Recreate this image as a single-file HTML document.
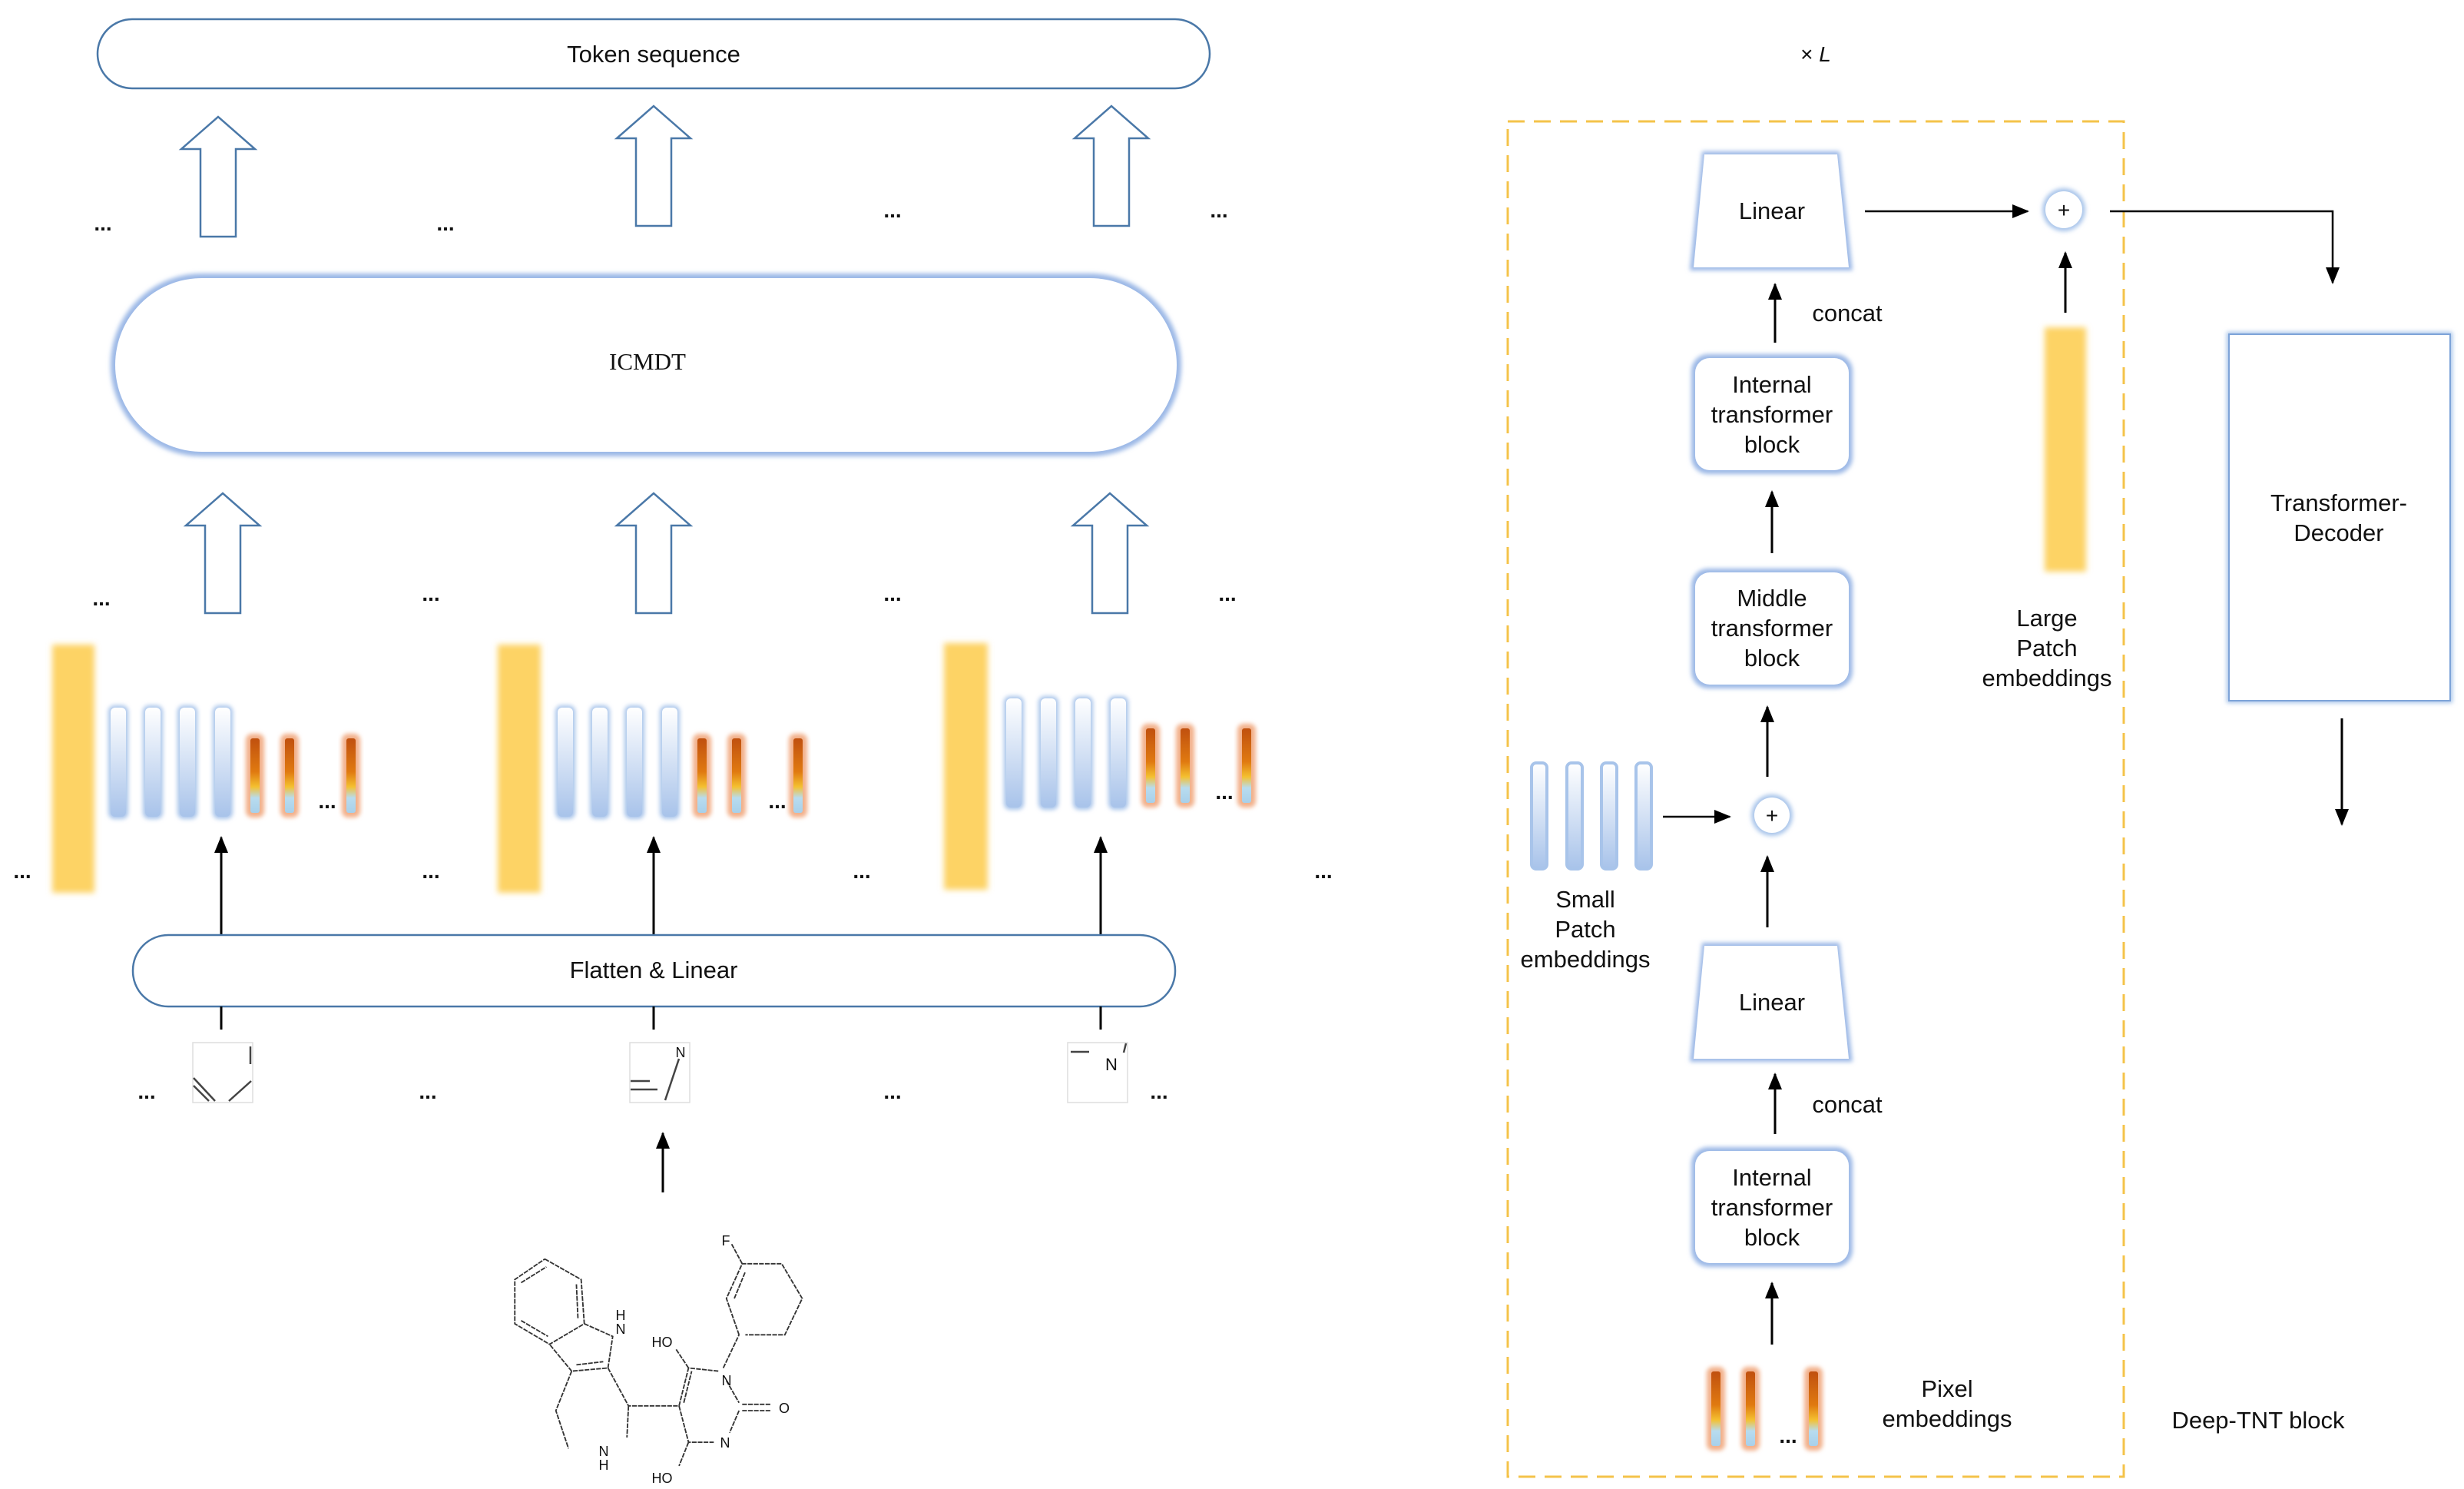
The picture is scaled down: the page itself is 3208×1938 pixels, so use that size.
<!DOCTYPE html>
<html><head><meta charset="utf-8"><style>
html,body{margin:0;padding:0;background:#fff}
svg{display:block}
text{font-family:"Liberation Sans",Arial,sans-serif;fill:#111}
</style></head><body>
<svg width="3208" height="1938" viewBox="0 0 3208 1938" xmlns="http://www.w3.org/2000/svg">
<defs>
<filter id="blur" x="-50%" y="-20%" width="200%" height="140%"><feGaussianBlur stdDeviation="4"/></filter>
<filter id="glow" x="-20%" y="-20%" width="140%" height="140%"><feGaussianBlur stdDeviation="3"/></filter>
<linearGradient id="bl" x1="0" y1="0" x2="0" y2="1"><stop offset="0" stop-color="#ffffff"/><stop offset="1" stop-color="#a8c3ea"/></linearGradient>
<linearGradient id="or" x1="0" y1="0" x2="0" y2="1"><stop offset="0" stop-color="#c0500f"/><stop offset="0.45" stop-color="#e07a10"/><stop offset="0.65" stop-color="#f4c030"/><stop offset="0.8" stop-color="#b8dcef"/><stop offset="1" stop-color="#a8d0ea"/></linearGradient>
<marker id="ahb" markerWidth="22" markerHeight="22" refX="20" refY="11" orient="auto" markerUnits="userSpaceOnUse"><path d="M0,2 L22,11 L0,20 z" fill="#000"/></marker>
<g id="hollow"><path d="M-23,0 L-23,-114 L-48,-114 L0,-156 L48,-114 L23,-114 L23,0 Z" fill="#fff" stroke="#4a78a8" stroke-width="2.5"/></g>
<g id="bbar"><rect x="-3" y="-3" width="26" height="148" rx="8" fill="#a8c4ea" filter="url(#glow)"/><rect x="0" y="0" width="20" height="142" rx="6" fill="url(#bl)"/></g>
<g id="obar"><rect x="-3" y="-3" width="24" height="109" rx="8" fill="#f2b08a" filter="url(#glow)"/><rect x="3" y="3" width="12" height="97" rx="3" fill="url(#or)"/></g>
</defs>

<rect x="127" y="25" width="1448" height="90" rx="45" fill="#fff" stroke="#4a78a8" stroke-width="2.5"/>
<text x="851" y="81" font-size="31" text-anchor="middle">Token sequence</text>

<use href="#hollow" x="284" y="308"/>
<use href="#hollow" x="851" y="294"/>
<use href="#hollow" x="1447" y="294"/>
<g font-size="28" font-weight="bold" text-anchor="middle">
<text x="134" y="300">...</text><text x="580" y="300">...</text><text x="1162" y="283">...</text><text x="1587" y="283">...</text>
</g>

<rect x="144" y="356" width="1394" height="238" rx="119" fill="#9bb8e6" filter="url(#glow)"/>
<rect x="150" y="362" width="1382" height="226" rx="113" fill="#fff"/>
<text x="843" y="481" font-size="31" text-anchor="middle" style="font-family:'Liberation Serif',serif">ICMDT</text>

<use href="#hollow" x="290" y="798"/>
<use href="#hollow" x="851" y="798"/>
<use href="#hollow" x="1445" y="798"/>
<g font-size="28" font-weight="bold" text-anchor="middle">
<text x="132" y="788">...</text><text x="561" y="782">...</text><text x="1162" y="782">...</text><text x="1598" y="782">...</text>
</g>

<rect x="68" y="839" width="55" height="323" fill="#fdd365" filter="url(#blur)"/>
<use href="#bbar" x="144" y="921"/><use href="#bbar" x="189" y="921"/><use href="#bbar" x="234" y="921"/><use href="#bbar" x="280" y="921"/>
<use href="#obar" x="323" y="958"/><use href="#obar" x="368" y="958"/><use href="#obar" x="448" y="958"/>
<rect x="648" y="839" width="56" height="323" fill="#fdd365" filter="url(#blur)"/>
<use href="#bbar" x="726" y="921"/><use href="#bbar" x="771" y="921"/><use href="#bbar" x="816" y="921"/><use href="#bbar" x="862" y="921"/>
<use href="#obar" x="905" y="958"/><use href="#obar" x="950" y="958"/><use href="#obar" x="1030" y="958"/>
<rect x="1229" y="837" width="57" height="321" fill="#fdd365" filter="url(#blur)"/>
<use href="#bbar" x="1310" y="909"/><use href="#bbar" x="1355" y="909"/><use href="#bbar" x="1400" y="909"/><use href="#bbar" x="1446" y="909"/>
<use href="#obar" x="1489" y="945"/><use href="#obar" x="1534" y="945"/><use href="#obar" x="1614" y="945"/>
<g font-size="28" font-weight="bold" text-anchor="middle">
<text x="426" y="1052">...</text><text x="1012" y="1052">...</text><text x="1594" y="1040">...</text>
<text x="29" y="1143">...</text><text x="561" y="1143">...</text><text x="1122" y="1143">...</text><text x="1723" y="1143">...</text>
</g>

<g stroke="#000" stroke-width="3" marker-end="url(#ahb)">
<line x1="288" y1="1217" x2="288" y2="1090"/>
<line x1="851" y1="1217" x2="851" y2="1090"/>
<line x1="1433" y1="1217" x2="1433" y2="1090"/>
</g>

<rect x="173" y="1217" width="1357" height="93" rx="46" fill="#fff" stroke="#4a78a8" stroke-width="2.5"/>
<text x="851" y="1273" font-size="31" text-anchor="middle">Flatten &amp; Linear</text>
<g stroke="#000" stroke-width="3">
<line x1="288" y1="1310" x2="288" y2="1340"/><line x1="851" y1="1310" x2="851" y2="1340"/><line x1="1433" y1="1310" x2="1433" y2="1340"/>
</g>
<g stroke="#ddd" stroke-width="1.5" fill="#fff">
<rect x="251" y="1357" width="78" height="78"/><rect x="820" y="1357" width="78" height="78"/><rect x="1390" y="1357" width="78" height="78"/>
</g>
<g stroke="#444" stroke-width="2.5" fill="none">
<line x1="326" y1="1362" x2="326" y2="1385"/>
<line x1="252" y1="1403" x2="280" y2="1433"/><line x1="252" y1="1413" x2="272" y2="1433"/><line x1="298" y1="1433" x2="327" y2="1407"/>
<line x1="884" y1="1378" x2="866" y2="1432"/><line x1="821" y1="1407" x2="846" y2="1407"/><line x1="821" y1="1418" x2="856" y2="1418"/>
<line x1="1394" y1="1369" x2="1418" y2="1369"/><line x1="1466" y1="1358" x2="1463" y2="1370"/>
</g>
<text x="886" y="1376" font-size="18" text-anchor="middle">N</text>
<text x="1447" y="1393" font-size="22" text-anchor="middle">N</text>
<g font-size="28" font-weight="bold" text-anchor="middle">
<text x="191" y="1430">...</text><text x="557" y="1430">...</text><text x="1162" y="1430">...</text><text x="1509" y="1430">...</text>
</g>
<line x1="863" y1="1552" x2="863" y2="1475" stroke="#000" stroke-width="3" marker-end="url(#ahb)"/>

<g transform="scale(2.056)" stroke="#333" stroke-width="0.9" fill="none" stroke-dasharray="3 0.7">
<polyline points="345,797 368,810 370,838 348,851 326,838 326,810 345,797"/>
<line x1="330" y1="812" x2="346" y2="802"/><line x1="330" y1="836" x2="347" y2="846"/><line x1="365" y1="813" x2="366" y2="835"/>
<polyline points="370,838 388,846 385,866 362,868 348,851"/>
<line x1="365" y1="864" x2="382" y2="862"/>
<polyline points="362,868 352,893 360,917"/>
<polyline points="385,866 398,890 430,890"/>
<line x1="398" y1="890" x2="397" y2="910"/>
<polyline points="430,890 436,866 455,868"/>
<line x1="433" y1="888" x2="438" y2="868"/>
<polyline points="430,890 436,913 452,913"/>
<line x1="460" y1="874" x2="468" y2="888"/>
<line x1="468" y1="893" x2="462" y2="907"/>
<line x1="470" y1="889" x2="488" y2="889"/><line x1="470" y1="893" x2="488" y2="893"/>
<line x1="436" y1="866" x2="428" y2="854"/>
<line x1="436" y1="913" x2="430" y2="928"/>
<line x1="458" y1="866" x2="468" y2="845"/>
<polyline points="468,845 460,822 470,800 495,800 508,822 497,845 472,845"/>
<line x1="465" y1="822" x2="472" y2="805"/>
<line x1="470" y1="800" x2="463" y2="787"/>
</g>
<g font-size="18" text-anchor="middle">
<text x="808" y="1718">H</text><text x="808" y="1736">N</text>
<text x="862" y="1753">HO</text><text x="946" y="1803">N</text><text x="1021" y="1839">O</text><text x="944" y="1884">N</text>
<text x="862" y="1930">HO</text><text x="945" y="1621">F</text>
<text x="786" y="1895">N</text><text x="786" y="1913">H</text>
</g>

<text x="2364" y="80" font-size="28" text-anchor="middle">× <tspan font-style="italic">L</tspan></text>
<rect x="1963" y="158" width="802" height="1764" fill="none" stroke="#f4c34a" stroke-width="3" stroke-dasharray="22 12"/>

<polygon points="2216,197 2395,197 2412,352 2200,352" fill="#9bb8e6" filter="url(#glow)"/>
<polygon points="2219,201 2392,201 2407,348 2205,348" fill="#fff"/>
<text x="2307" y="285" font-size="31" text-anchor="middle">Linear</text>
<line x1="2428" y1="275" x2="2640" y2="275" stroke="#000" stroke-width="2.5" marker-end="url(#ahb)"/>
<circle cx="2687" cy="273" r="28" fill="#a8c4ea" filter="url(#glow)"/>
<circle cx="2687" cy="273" r="24" fill="#fff"/>
<text x="2687" y="283" font-size="28" text-anchor="middle">+</text>
<polyline points="2747,275 3037,275 3037,368" fill="none" stroke="#000" stroke-width="2.5" marker-end="url(#ahb)"/>
<line x1="2689" y1="407" x2="2689" y2="329" stroke="#000" stroke-width="3" marker-end="url(#ahb)"/>
<rect x="2662" y="426" width="54" height="318" fill="#fdd365" filter="url(#blur)"/>
<g font-size="31" text-anchor="middle">
<text x="2665" y="815">Large</text><text x="2665" y="854">Patch</text><text x="2665" y="893">embeddings</text>
</g>

<line x1="2311" y1="446" x2="2311" y2="370" stroke="#000" stroke-width="3" marker-end="url(#ahb)"/>
<text x="2405" y="418" font-size="31" text-anchor="middle">concat</text>

<rect x="2202" y="461" width="210" height="156" rx="22" fill="#9bb8e6" filter="url(#glow)"/>
<rect x="2207" y="466" width="200" height="146" rx="19" fill="#fff"/>
<g font-size="31" text-anchor="middle"><text x="2307" y="511">Internal</text><text x="2307" y="550">transformer</text><text x="2307" y="589">block</text></g>

<line x1="2307" y1="720" x2="2307" y2="640" stroke="#000" stroke-width="3" marker-end="url(#ahb)"/>

<rect x="2202" y="740" width="210" height="156" rx="22" fill="#9bb8e6" filter="url(#glow)"/>
<rect x="2207" y="745" width="200" height="146" rx="19" fill="#fff"/>
<g font-size="31" text-anchor="middle"><text x="2307" y="789">Middle</text><text x="2307" y="828">transformer</text><text x="2307" y="867">block</text></g>

<line x1="2301" y1="1011" x2="2301" y2="920" stroke="#000" stroke-width="3" marker-end="url(#ahb)"/>
<circle cx="2307" cy="1061" r="27" fill="#a8c4ea" filter="url(#glow)"/>
<circle cx="2307" cy="1061" r="23" fill="#fff"/>
<text x="2307" y="1071" font-size="28" text-anchor="middle">+</text>

<rect x="1994" y="993" width="20" height="138" rx="6" fill="url(#bl)" stroke="#a8c4ea" stroke-width="4"/>
<rect x="2040" y="993" width="20" height="138" rx="6" fill="url(#bl)" stroke="#a8c4ea" stroke-width="4"/>
<rect x="2085" y="993" width="20" height="138" rx="6" fill="url(#bl)" stroke="#a8c4ea" stroke-width="4"/>
<rect x="2130" y="993" width="20" height="138" rx="6" fill="url(#bl)" stroke="#a8c4ea" stroke-width="4"/>
<line x1="2165" y1="1063" x2="2252" y2="1063" stroke="#000" stroke-width="2.5" marker-end="url(#ahb)"/>
<g font-size="31" text-anchor="middle"><text x="2064" y="1181">Small</text><text x="2064" y="1220">Patch</text><text x="2064" y="1259">embeddings</text></g>

<line x1="2301" y1="1207" x2="2301" y2="1115" stroke="#000" stroke-width="3" marker-end="url(#ahb)"/>

<polygon points="2216,1227 2395,1227 2412,1382 2200,1382" fill="#9bb8e6" filter="url(#glow)"/>
<polygon points="2219,1231 2392,1231 2407,1378 2205,1378" fill="#fff"/>
<text x="2307" y="1315" font-size="31" text-anchor="middle">Linear</text>

<line x1="2311" y1="1476" x2="2311" y2="1398" stroke="#000" stroke-width="3" marker-end="url(#ahb)"/>
<text x="2405" y="1448" font-size="31" text-anchor="middle">concat</text>

<rect x="2202" y="1493" width="210" height="156" rx="22" fill="#9bb8e6" filter="url(#glow)"/>
<rect x="2207" y="1498" width="200" height="146" rx="19" fill="#fff"/>
<g font-size="31" text-anchor="middle"><text x="2307" y="1543">Internal</text><text x="2307" y="1582">transformer</text><text x="2307" y="1621">block</text></g>

<line x1="2307" y1="1750" x2="2307" y2="1670" stroke="#000" stroke-width="3" marker-end="url(#ahb)"/>

<use href="#obar" x="2225" y="1782"/><use href="#obar" x="2270" y="1782"/><use href="#obar" x="2352" y="1782"/>
<text x="2328" y="1878" font-size="28" font-weight="bold" text-anchor="middle">...</text>
<g font-size="31" text-anchor="middle"><text x="2535" y="1818">Pixel</text><text x="2535" y="1857">embeddings</text></g>

<rect x="2899" y="432" width="294" height="483" fill="#a8c4ea" filter="url(#glow)"/>
<rect x="2902" y="435" width="288" height="477" fill="#fff" stroke="#7da3d8" stroke-width="2"/>
<g font-size="31" text-anchor="middle"><text x="3045" y="665">Transformer-</text><text x="3045" y="704">Decoder</text></g>
<line x1="3049" y1="935" x2="3049" y2="1073" stroke="#000" stroke-width="3" marker-end="url(#ahb)"/>

<text x="2940" y="1859" font-size="31" text-anchor="middle">Deep-TNT block</text>
</svg>
</body></html>
